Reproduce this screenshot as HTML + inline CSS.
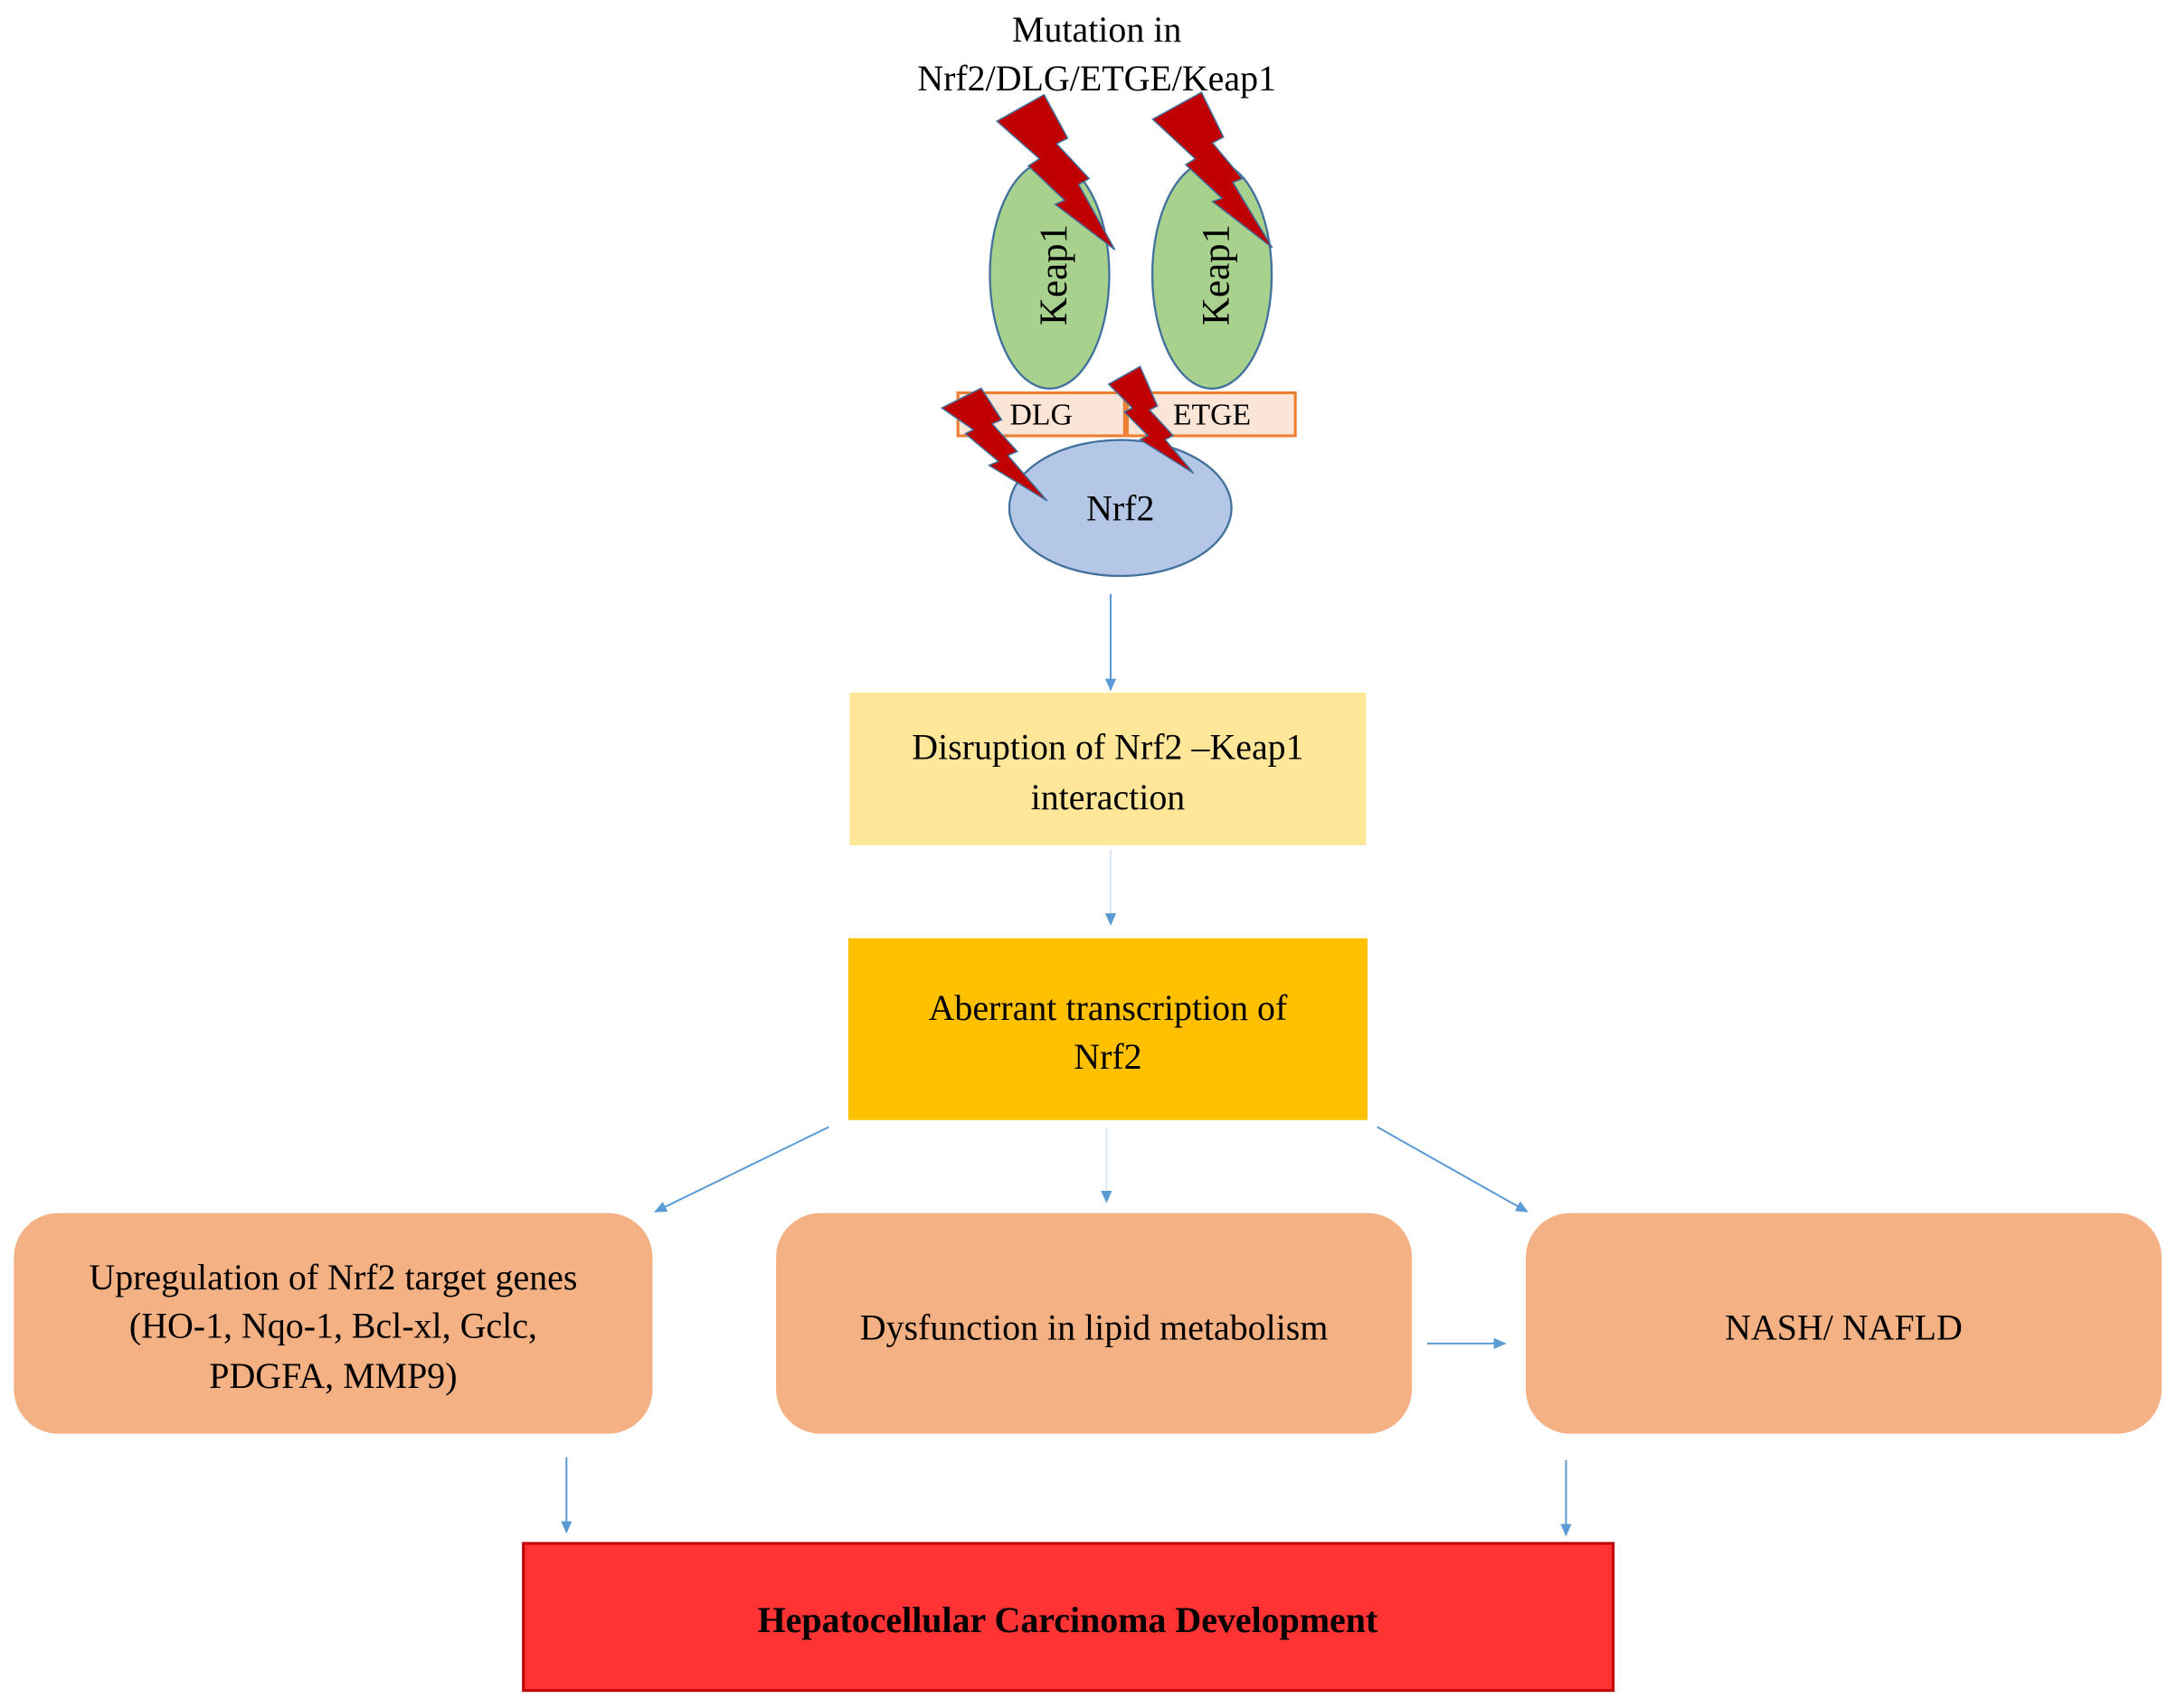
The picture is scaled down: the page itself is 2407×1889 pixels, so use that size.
<!DOCTYPE html>
<html><head><meta charset="utf-8"><style>html,body{margin:0;padding:0;background:#fff}svg{display:block}
text{font-family:"Liberation Serif","DejaVu Serif",serif}</style></head>
<body>
<svg width="2407" height="1889" viewBox="0 0 2407 1889" xmlns="http://www.w3.org/2000/svg">
<defs>
<marker id="ah" markerWidth="10" markerHeight="10" refX="8" refY="5" orient="auto" markerUnits="userSpaceOnUse">
<path d="M0,1 L9,5 L0,9 z" fill="#5b9bd5"/></marker>
</defs>
<g transform="scale(1.535)" fill="#000">
<text x="790" y="30" font-size="26" text-anchor="middle">Mutation in</text>
<text x="790" y="65" font-size="26" text-anchor="middle">Nrf2/DLG/ETGE/Keap1</text>
<ellipse cx="756" cy="198" rx="43" ry="82" fill="#a9d18e" stroke="#41719c" stroke-width="1.5"/>
<ellipse cx="873" cy="198" rx="43" ry="82" fill="#a9d18e" stroke="#41719c" stroke-width="1.5"/>
<text transform="translate(768,198) rotate(-90)" font-size="28" text-anchor="middle">Keap1</text>
<text transform="translate(885,198) rotate(-90)" font-size="28" text-anchor="middle">Keap1</text>
<ellipse cx="807" cy="366" rx="80" ry="49" fill="#b4c7e7" stroke="#41719c" stroke-width="1.5"/>
<rect x="690" y="283" width="120" height="31" fill="#fbe5d6" stroke="#ed7d31" stroke-width="2"/>
<rect x="812" y="283" width="121" height="31" fill="#fbe5d6" stroke="#ed7d31" stroke-width="2"/>
<text x="750" y="306" font-size="22" text-anchor="middle">DLG</text>
<text x="873" y="306" font-size="22" text-anchor="middle">ETGE</text>
<text x="807" y="375" font-size="26" text-anchor="middle">Nrf2</text>
<g transform="translate(621.7,-11) scale(0.2267,0.285)" fill="#c00000" stroke="#41719c" stroke-width="1.5">
<polygon vector-effect="non-scaling-stroke" points="425,345 575,278 650,388 615,402 718,490 685,505 800,670 610,555 640,545 525,458 560,440"/>
<polygon vector-effect="non-scaling-stroke" points="920,340 1075,272 1145,385 1110,400 1205,490 1175,500 1300,665 1110,548 1140,540 1025,455 1055,440"/>
<polygon vector-effect="non-scaling-stroke" points="250,1070 375,1020 440,1100 410,1110 490,1180 460,1190 585,1305 400,1215 430,1205 325,1135 350,1125"/>
<polygon vector-effect="non-scaling-stroke" points="780,1010 880,965 935,1065 910,1075 985,1140 960,1150 1050,1235 880,1150 905,1140 830,1080 855,1070"/>
</g>
<g stroke="#5b9bd5" stroke-width="1.3" fill="none" marker-end="url(#ah)">
<line x1="800" y1="428" x2="800" y2="497"/>
<line x1="800" y1="612" x2="800" y2="666" stroke="#dde8f4"/>
<line x1="597" y1="812" x2="472" y2="873"/>
<line x1="797" y1="812" x2="797" y2="866" stroke="#dde8f4"/>
<line x1="992" y1="812" x2="1100" y2="873"/>
<line x1="1028" y1="968" x2="1084" y2="968"/>
<line x1="408" y1="1050" x2="408" y2="1104"/>
<line x1="1128" y1="1052" x2="1128" y2="1106"/>
</g>
<rect x="612" y="499" width="372" height="110" fill="#ffe699"/>
<text x="798" y="547" font-size="26" text-anchor="middle">Disruption of Nrf2 –Keap1</text>
<text x="798" y="583" font-size="26" text-anchor="middle">interaction</text>
<rect x="611" y="676" width="374" height="131" fill="#ffc000"/>
<text x="798" y="735" font-size="26" text-anchor="middle">Aberrant transcription of</text>
<text x="798" y="770" font-size="26" text-anchor="middle">Nrf2</text>
<rect x="10" y="874" width="460" height="159" rx="32" fill="#f4b183"/>
<rect x="559" y="874" width="458" height="159" rx="32" fill="#f4b183"/>
<rect x="1099" y="874" width="458" height="159" rx="32" fill="#f4b183"/>
<text x="240" y="929" font-size="26" text-anchor="middle">Upregulation of Nrf2 target genes</text>
<text x="240" y="964" font-size="26" text-anchor="middle">(HO-1, Nqo-1, Bcl-xl, Gclc,</text>
<text x="240" y="1000" font-size="26" text-anchor="middle">PDGFA, MMP9)</text>
<text x="788" y="965" font-size="26" text-anchor="middle">Dysfunction in lipid metabolism</text>
<text x="1328" y="965" font-size="26" text-anchor="middle">NASH/ NAFLD</text>
<rect x="377" y="1112" width="785" height="106" fill="#ff3333" stroke="#c00000" stroke-width="2"/>
<text x="769" y="1176" font-size="26" font-weight="bold" text-anchor="middle">Hepatocellular Carcinoma Development</text>
</g>
</svg>
</body></html>
